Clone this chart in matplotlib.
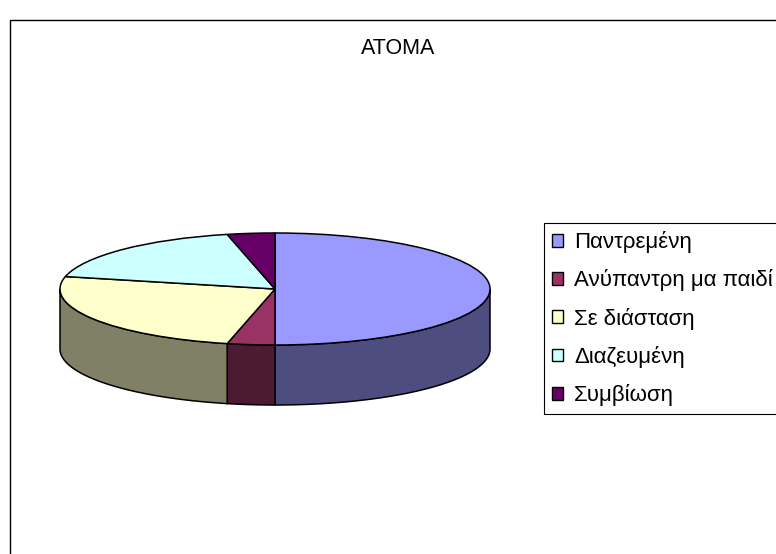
import numpy as np
import matplotlib
matplotlib.use('Agg')
import matplotlib.pyplot as plt
from matplotlib.patches import Patch, Rectangle

title = 'ΑΤΟΜΑ'
labels = ['Παντρεμένη', 'Ανύπαντρη μα παιδί', 'Σε διάσταση', 'Διαζευμένη', 'Συμβίωση']
values = [28, 2, 14, 10, 2]
colors = ['#9999FF', '#993366', '#FFFFCC', '#CCFFFF', '#660066']
side_colors = ['#4D4D80', '#4D1A33', '#808066', '#668080', '#330033']

W, H = 776, 554
depth = 60 / 56.   # wall height, in units of the ellipse's half height

plt.rcParams['font.family'] = ['Liberation Sans', 'DejaVu Sans']

fig = plt.figure(figsize=(W / 100., H / 100.), dpi=100, facecolor='white')

# chart border, runs off the right and bottom of the picture
fig.add_artist(Rectangle((10. / W, -0.05), 1.1, 1.05 - 19.5 / H, transform=fig.transFigure,
                         facecolor='white', edgecolor='black', linewidth=1.0, zorder=-1))

# pie axes cover the ellipse plus the wall under it
ax = fig.add_axes([60. / W, 1 - 405. / H, 430. / W, 172. / H])

wedges, _ = ax.pie(values, colors=colors, startangle=90, counterclock=False, radius=1,
                   wedgeprops=dict(edgecolor='black', linewidth=1.1, clip_on=False, zorder=3))
ax.set_aspect('auto')
ax.set_xlim(-1, 1)
ax.set_ylim(-1 - depth, 1)

# walls: only the front half of each slice shows
ends = 90 - np.cumsum(values) * 360. / sum(values)
starts = np.concatenate(([90], ends[:-1]))
for a0, a1, c in zip(starts, ends, side_colors):
    a = np.linspace(a1, a0, 200)
    a = a[np.sin(np.radians(a)) <= 0]
    if len(a) < 2:
        continue
    x = np.cos(np.radians(a))
    y = np.sin(np.radians(a))
    ax.fill(np.concatenate((x, x[::-1])), np.concatenate((y, y[::-1] - depth)),
            facecolor=c, edgecolor='black', linewidth=1.1, clip_on=False, zorder=2)

fig.text(398. / W, 1 - 48.5 / H, title, fontsize=15.5, ha='center', va='center')

handles = [Patch(facecolor=c, edgecolor='black', linewidth=1.0) for c in colors]
leg = fig.legend(handles, labels, loc='upper left', bbox_to_anchor=(543.5 / W, 1 - 223. / H),
                 fontsize=16, fancybox=False, framealpha=1, edgecolor='black',
                 handlelength=0.5, handleheight=0.5, handletextpad=0.5, labelspacing=0.73,
                 borderpad=0.37, borderaxespad=0)
leg.get_frame().set_linewidth(0.8)

plt.savefig('out.png', dpi=100)
